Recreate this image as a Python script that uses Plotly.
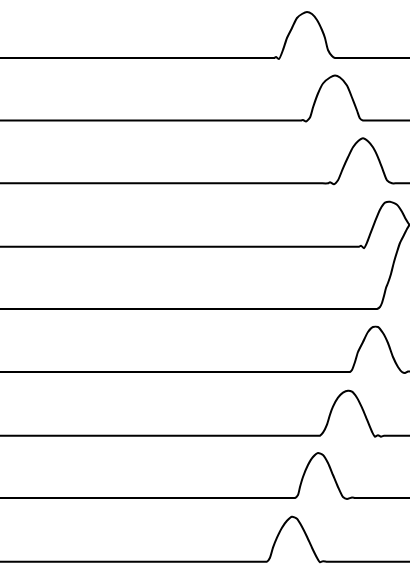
import plotly.graph_objects as go

# Row baselines (pixel rows from the top of the picture)
baselines = [58, 120.5, 183.3, 246.7, 309, 372, 435.7, 498, 561.7]

# Each row: horizontal positions and upward displacement of the pulse
row1_x = [0, 100, 200, 260, 270, 274, 276, 279, 283, 287, 292, 297, 302, 307, 312, 317, 322, 325, 328, 332, 335, 340, 360, 385, 410]
row1_d = [0, 0, 0, 0, 0, 0, 1, -1, 8, 20, 30, 40, 44, 46, 44, 38, 28, 20, 8, 2, 0, 0, 0, 0, 0]

row2_x = [0, 100, 200, 280, 295, 301, 303, 306, 310, 313, 318, 323, 330, 335, 340, 347, 352, 357, 360, 363, 368, 385, 410]
row2_d = [0, 0, 0, 0, 0, 0, 0.5, -1, 3, 13, 27, 37, 43, 45, 43, 35, 23, 10, 2, 0, 0, 0, 0]

row3_x = [0, 100, 200, 300, 320, 328, 330, 334, 338, 343, 348, 353, 358, 363, 368, 373, 378, 383, 387, 392, 397, 410]
row3_d = [0, 0, 0, 0, 0, 0, 1, -1, 3, 15, 26, 36, 42, 45, 42, 36, 26, 13, 3, 0, 0, 0]

row4_x = [0, 100, 200, 300, 345, 355, 359, 361, 364, 367, 370, 375, 380, 385, 390, 397, 402, 405, 408, 410]
row4_d = [0, 0, 0, 0, 0, 0, 0, 1, -1.5, 4, 12, 25, 37, 44, 45, 42, 35, 29, 24, 21]

row5_x = [0, 100, 200, 300, 360, 372, 377, 380, 382, 384, 386, 388, 391, 394, 397, 400, 404, 407, 410]
row5_d = [0, 0, 0, 0, 0, 0, 0, 2, 6, 13, 21, 26, 35, 47, 57, 66, 74, 80, 85]

row6_x = [0, 100, 200, 300, 335, 346, 350, 352, 355, 358, 363, 368, 373, 378, 383, 388, 393, 398, 402, 405, 408, 410]
row6_d = [0, 0, 0, 0, 0, 0, 0, 2, 10, 20, 30, 40, 45, 45, 39, 29, 15, 5, 0, -1, 0.5, 0.5]

row7_x = [0, 100, 200, 290, 310, 317, 320, 323, 327, 330, 333, 338, 343, 348, 352, 357, 362, 367, 372, 375, 378, 381, 384, 390, 400, 410]
row7_d = [0, 0, 0, 0, 0, 0, 0, 3, 11, 21, 29, 38, 43, 45, 44, 38, 28, 16, 4, -1, 0.5, -1, 0, 0, 0, 0]

row8_x = [0, 100, 200, 270, 285, 292, 295, 298, 300, 303, 308, 313, 318, 323, 328, 333, 338, 343, 347, 352, 355, 360, 380, 410]
row8_d = [0, 0, 0, 0, 0, 0, 0, 3, 11, 21, 33, 41, 45, 43, 35, 23, 11, 1, -1, 0.5, 0, 0, 0, 0]

row9_x = [0, 100, 200, 245, 258, 264, 267, 270, 273, 277, 282, 287, 292, 297, 302, 307, 312, 317, 320, 323, 327, 332, 350, 380, 410]
row9_d = [0, 0, 0, 0, 0, 0, 0, 4, 14, 24, 34, 41, 45, 43, 35, 25, 14, 4, -0.5, 0.5, 0, 0, 0, 0, 0]

rows_x = [row1_x, row2_x, row3_x, row4_x, row5_x, row6_x, row7_x, row8_x, row9_x]
rows_d = [row1_d, row2_d, row3_d, row4_d, row5_d, row6_d, row7_d, row8_d, row9_d]

H = 575
W = 410

fig = go.Figure()
for base, xs, ds in zip(baselines, rows_x, rows_d):
    ys = [(H - base) + d for d in ds]
    fig.add_trace(go.Scatter(
        x=xs, y=ys, mode="lines",
        line=dict(color="black", width=2, shape="spline", smoothing=0.6),
        hoverinfo="skip", showlegend=False,
    ))

fig.update_layout(
    width=W, height=H,
    margin=dict(l=0, r=0, t=0, b=0),
    paper_bgcolor="white", plot_bgcolor="white",
    xaxis=dict(range=[0, W], visible=False, fixedrange=True),
    yaxis=dict(range=[0, H], visible=False, fixedrange=True),
)

fig.write_html("out.html")
